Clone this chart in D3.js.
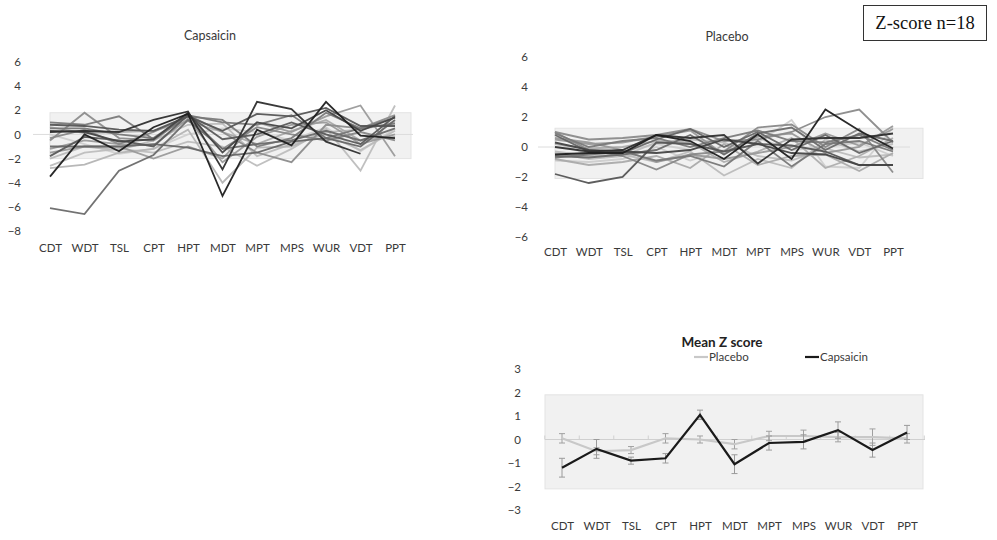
<!DOCTYPE html>
<html><head><meta charset="utf-8">
<script src="https://cdn.jsdelivr.net/npm/d3@7"></script>
<style>
html,body{margin:0;padding:0;background:#fff;}
svg{display:block;}
</style></head>
<body>
<svg id="chart" width="997" height="540" font-family="Lato, 'Open Sans', sans-serif"></svg>
<script>
// ---------- DATA ----------
const categories = ["CDT","WDT","TSL","CPT","HPT","MDT","MPT","MPS","WUR","VDT","PPT"];

// individual z-scores, capsaicin-treated side (18 subjects)
const capsaicinSubjects = [
  [-3.5, 0.0,-1.4, 0.6, 1.7,-5.1, 0.4,-0.9, 2.7,-0.1,-0.3],
  [ 0.2, 0.3, 0.2, 1.2, 1.9,-2.9, 2.7, 2.1,-0.6,-1.6, null],
  [-6.1,-6.6,-3.0,-1.7, 1.2,-1.2,-0.8,-0.5, 0.3,-0.5, 0.5],
  [ 1.0, 0.8, 1.5,-0.4, 1.5, 1.2,-1.0,-0.3, 1.8, 0.5, 1.4],
  [-0.5, 1.8,-0.3,-0.5, 1.6, 0.2,-1.5,-2.3, 0.8, 0.5, 1.6],
  [-2.8,-2.5,-1.5,-1.2, 0.4,-4.0,-1.1,-1.0, 0.2, 0.4, 1.0],
  [-2.6,-1.5,-1.2,-1.5,-0.6,-1.0,-2.6,-1.2, 0.5,-3.0, 2.4],
  [-1.5,-1.0,-1.0,-2.0,-1.0,-2.0, 1.0, 0.2, 1.5, 2.4,-1.8],
  [ 0.8, 0.7, 0.4, 0.3, 1.5, 0.3, 1.7, 1.5, 2.2, 0.7, 0.7],
  [ 0.3, 0.2,-0.6,-0.4, 1.8,-1.5, 1.0, 0.5, 2.0, 0.3, 1.4],
  [-1.2,-0.5,-0.8,-0.9, 1.3,-2.3,-0.2, 0.8, 1.0,-0.8, 0.0],
  [-2.0,-1.0,-1.3,-0.5, 0.8, 0.9,-1.8,-0.8, 0.0,-1.3, 0.3],
  [ 0.5, 0.5, 0.0,-0.3, 1.6, 1.0, 0.8, 1.6,-0.3, 0.5, 0.9],
  [-1.0,-1.0,-1.0,-0.8,-1.1,-1.8,-1.5,-0.6,-0.3,-1.0, 1.2],
  [ 0.0,-0.8,-1.6,-1.2, 0.0, 0.5, 0.2,-0.5, 0.6,-1.4, 0.5],
  [-0.3, 0.4,-0.8, 0.2, 1.5,-1.2, 0.6, 0.0,-0.5, 0.2,-0.5],
  [-1.8,-0.2,-0.5,-1.0, 1.6,-0.4, 0.0, 1.0, 0.0,-0.8, 1.5],
  [ 0.6, 0.1, 0.2, 0.3, 1.1, 0.2,-0.8, 0.3, 1.2,-0.5,-0.2]
];

// individual z-scores, placebo-treated side (18 subjects)
const placeboSubjects = [
  [-0.5,-0.4,-0.4, 0.8, 0.4,-0.8, 0.85,-0.8, 2.5, 1.1,-0.1],
  [ 0.0,-0.3,-0.2, 0.8, 0.6, 0.8,-1.1, 0.5, 0.6, 0.6, 0.9],
  [-1.8,-2.4,-2.0, 0.3, 0.2,-0.3, 0.2, 0.1,-0.3,-1.2,-1.2],
  [ 1.0, 0.5, 0.6, 0.8, 1.2, 0.4, 0.5, 1.0, 2.0, 2.5, 0.3],
  [ 0.3,-0.5,-0.3, 0.2,-0.2, 0.5, 0.3, 1.8,-1.3,-1.4, 1.3],
  [ 1.0,-0.2,-0.6,-1.5,-0.5,-0.3, 1.3, 1.5, 0.0, 1.2,-1.7],
  [ 0.8,-0.3,-0.4, 0.5, 1.2, 0.0, 1.0,-0.2, 0.8,-0.4, 0.4],
  [-0.8,-1.2,-1.0,-0.6,-1.4, 0.2,-1.2,-0.6,-0.5,-1.6,-0.4],
  [-0.3,-0.6,-0.5,-1.0,-0.3,-1.9,-0.8,-1.4, 0.5,-0.3, 0.2],
  [ 0.5, 0.2, 0.3, 0.7, 1.1,-0.5, 0.7, 0.9,-0.4, 0.0, 1.4],
  [-0.7,-0.5,-0.3,-0.9,-0.6,-1.3, 0.4,-1.3, 0.2, 0.4,-0.3],
  [ 0.2,-0.1, 0.0, 0.4, 0.3,-1.0,-0.3, 0.6,-1.4,-0.6, 0.6],
  [-0.6,-0.7,-0.5,-0.2, 0.8,-0.5, 0.9, 1.3,-0.2, 0.9, 0.4],
  [-0.9,-1.0,-0.8, 0.0,-0.9,-0.2, 0.6,-0.2, 0.0, 0.3,-0.6],
  [ 0.6, 0.3,-0.2,-1.0,-0.5,-0.8,-0.4, 0.0, 0.9, 0.1, 1.2],
  [-0.4,-0.8,-0.6, 0.3, 0.5, 0.3,-0.6,-0.9,-0.1,-0.7,-0.5],
  [ 0.9, 0.0, 0.4, 0.6, 0.0, 0.6, 1.1, 0.4, 0.3, 0.8,-0.2],
  [ 0.3,-0.2,-0.3,-0.4,-0.2, 0.5, 0.2,-0.4,-0.5,-1.2,-1.2]
];

// group means and error bars
const meanCapsaicin = [-1.2,-0.4,-0.9,-0.8, 1.05,-1.05,-0.15,-0.1, 0.4,-0.45, 0.3];
const errCapsaicin  = [ 0.4, 0.4, 0.15, 0.2, 0.2, 0.4, 0.3, 0.3, 0.35, 0.3, 0.3];
const meanPlacebo   = [ 0.05,-0.5,-0.45, 0.05, 0.0,-0.2, 0.15, 0.15, 0.1, 0.1, 0.05];
const errPlacebo    = [ 0.2, 0.15, 0.15, 0.2, 0.15, 0.2, 0.2, 0.25, 0.2, 0.35, 0.2];

// normal range band (upper, lower z)
const normalRangeCapsaicin = [1.8, -2.0];
const normalRangePlacebo   = [1.25, -2.1];
const normalRangeMean      = [1.9, -2.1];

const yTicksCapsaicin = [6,4,2,0,-2,-4,-6,-8];
const yTicksPlacebo   = [6,4,2,0,-2,-4,-6];
const yTicksMean      = [3,2,1,0,-1,-2,-3];

const legendLabels = ["Placebo","Capsaicin"];

// ---------- STYLE ----------
const capShades = ["#1e1e1e","#2e2e2e","#6a6a6a","#7a7a7a","#8c8c8c","#b4b4b4","#bdbdbd","#9a9a9a","#555","#444","#999","#bbb","#777","#666","#cfcfcf","#888","#5a5a5a","#aaa"];
const plaShades = ["#1e1e1e","#2e2e2e","#555","#8a8a8a","#cfcfcf","#888","#666","#aaa","#bbb","#999","#777","#adadad","#6a6a6a","#cccccc","#9a9a9a","#bdbdbd","#7a7a7a","#444"];
const textColor = "#3a3a3a";

const svg = d3.select("#chart");
svg.append("rect").attr("width",997).attr("height",540).attr("fill","#fff");

function panel(cfg){
  const g = svg.append("g");
  const x = d3.scalePoint().domain(categories).range(cfg.xRange);
  const y = d3.scaleLinear().domain(cfg.yDomain).range(cfg.yRange);
  g.append("rect")
    .attr("x", cfg.band[0]).attr("width", cfg.band[1]-cfg.band[0])
    .attr("y", y(cfg.range[0])).attr("height", y(cfg.range[1]) - y(cfg.range[0]))
    .attr("fill","#f1f1f1").attr("stroke","#e3e3e3").attr("stroke-width",1);
  g.append("line").attr("x1",cfg.zero[0]).attr("x2",cfg.zero[1])
    .attr("y1",y(0)).attr("y2",y(0)).attr("stroke",cfg.zeroColor||"#dcdcdc").attr("stroke-width",1);
  const ya = d3.axisLeft(y).tickValues(cfg.yTicks).tickSize(0).tickPadding(0).tickFormat(d3.format("d"));
  const yg = g.append("g").attr("transform",`translate(${cfg.yLabelX},0)`).call(ya);
  yg.attr("font-family",null).attr("font-size",null);
  yg.select(".domain").remove();
  yg.selectAll("text").attr("font-size",11.5).attr("fill",textColor);
  const xa = d3.axisBottom(x).tickSize(0).tickPadding(0);
  const xg = g.append("g").attr("transform",`translate(0,${cfg.xLabelY})`).call(xa);
  xg.attr("font-family",null).attr("font-size",null);
  xg.select(".domain").remove();
  xg.selectAll("text").attr("font-size",11.5).attr("fill",textColor);
  return {g,x,y};
}

function spaghetti(p, subjects, shades){
  const line = d3.line().defined(d=>d.v!=null).x(d=>p.x(d.c)).y(d=>p.y(d.v));
  subjects.forEach((s,i)=>{
    p.g.append("path")
      .datum(s.map((v,j)=>({c:categories[j],v})))
      .attr("d",line).attr("fill","none")
      .attr("stroke",shades[i]).attr("stroke-width",1.8)
      .attr("opacity",0.95);
  });
}

// ---------- Capsaicin ----------
const pc = panel({xRange:[50,395], yDomain:[-8,6], yRange:[231,62], band:[50,411],
  range:normalRangeCapsaicin, zero:[33,413], yTicks:yTicksCapsaicin, yLabelX:21, xLabelY:244});
const capOrder = d3.range(capsaicinSubjects.length).sort((a,b)=>d3.color(capShades[b]).r - d3.color(capShades[a]).r);
spaghetti(pc, capOrder.map(i=>capsaicinSubjects[i]), capOrder.map(i=>capShades[i]));
svg.append("text").attr("x",210).attr("y",40).attr("text-anchor","middle")
  .attr("font-size",12.5).attr("fill",textColor).text("Capsaicin");

// ---------- Placebo ----------
const pp = panel({xRange:[555,893], yDomain:[-6,6], yRange:[237,57], band:[555,923],
  range:normalRangePlacebo, zero:[538,910], yTicks:yTicksPlacebo, yLabelX:528, xLabelY:248});
const plaOrder = d3.range(placeboSubjects.length).sort((a,b)=>d3.color(plaShades[b]).r - d3.color(plaShades[a]).r);
spaghetti(pp, plaOrder.map(i=>placeboSubjects[i]), plaOrder.map(i=>plaShades[i]));
svg.append("text").attr("x",727).attr("y",41).attr("text-anchor","middle")
  .attr("font-size",12.5).attr("fill",textColor).text("Placebo");

// ---------- Z-score box ----------
svg.append("rect").attr("x",863.5).attr("y",5.5).attr("width",123).attr("height",35)
  .attr("fill","#fff").attr("stroke","#333").attr("stroke-width",1);
svg.append("text").attr("x",925).attr("y",29).attr("text-anchor","middle")
  .attr("font-family","'Liberation Serif','DejaVu Serif',serif").attr("font-size",18.5)
  .attr("fill","#111").text("Z-score n=18");

// ---------- Mean Z score ----------
const pm = panel({xRange:[562,907], yDomain:[-3,3], yRange:[510,369], band:[545,923],
  range:normalRangeMean, zero:[545,925], zeroColor:"#d0d0d0", yTicks:yTicksMean, yLabelX:521, xLabelY:522});
const step = pm.x.step();
const bounds = categories.map(c=>pm.x(c)-step/2).concat([pm.x(categories[categories.length-1])+step/2]);
pm.g.selectAll(".bt").data(bounds).enter().append("line")
  .attr("x1",d=>d).attr("x2",d=>d).attr("y1",pm.y(0)-4).attr("y2",pm.y(0))
  .attr("stroke","#d0d0d0");

function meanSeries(means, errs, color, barColor){
  const pts = means.map((v,j)=>({c:categories[j],v,e:errs[j]}));
  const eg = pm.g.append("g");
  pts.forEach(d=>{
    const cx = pm.x(d.c);
    eg.append("line").attr("x1",cx).attr("x2",cx).attr("y1",pm.y(d.v+d.e)).attr("y2",pm.y(d.v-d.e))
      .attr("stroke",barColor).attr("stroke-width",1);
    [d.v+d.e,d.v-d.e].forEach(t=>{
      eg.append("line").attr("x1",cx-3).attr("x2",cx+3).attr("y1",pm.y(t)).attr("y2",pm.y(t))
        .attr("stroke",barColor).attr("stroke-width",1);
    });
  });
  pm.g.append("path").datum(pts)
    .attr("d",d3.line().x(d=>pm.x(d.c)).y(d=>pm.y(d.v)))
    .attr("fill","none").attr("stroke",color).attr("stroke-width",2.2);
}
meanSeries(meanPlacebo, errPlacebo, "#c8c8c8", "#a0a0a0");
meanSeries(meanCapsaicin, errCapsaicin, "#1a1a1a", "#9a9a9a");

svg.append("text").attr("x",722).attr("y",347).attr("text-anchor","middle")
  .attr("font-size",13.5).attr("font-weight","bold").attr("fill","#222").text("Mean Z score");
const legend = [
  {label:legendLabels[0], color:"#c8c8c8", x:694},
  {label:legendLabels[1], color:"#1a1a1a", x:805}
];
legend.forEach(l=>{
  svg.append("line").attr("x1",l.x).attr("x2",l.x+14).attr("y1",357).attr("y2",357)
    .attr("stroke",l.color).attr("stroke-width",2.2);
  svg.append("text").attr("x",l.x+15).attr("y",361).attr("font-size",11.5).attr("fill",textColor).text(l.label);
});
</script>
</body></html>
